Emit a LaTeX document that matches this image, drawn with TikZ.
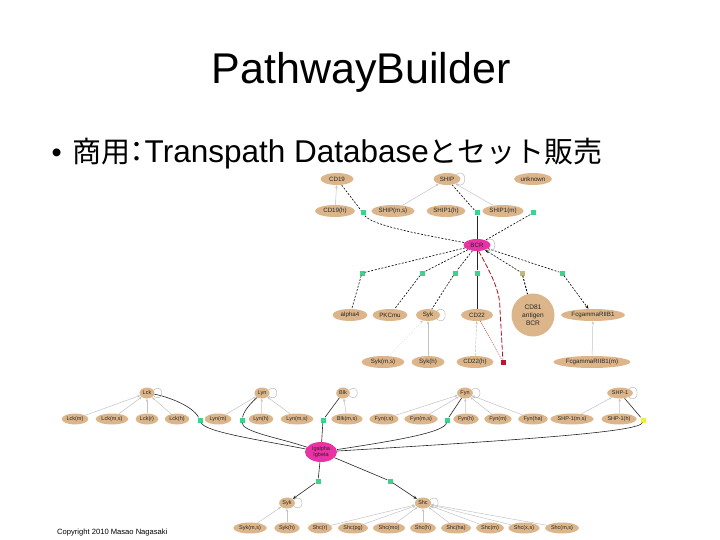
\documentclass[tikz,border=0pt]{standalone}
\usepackage{fontspec}
\setmainfont{Liberation Sans}
\newfontfamily\cjk{Noto Sans CJK JP}
\newfontfamily\cjkhalf[RawFeature=+halt]{Noto Sans CJK JP}
\usetikzlibrary{shapes.geometric,arrows.meta}
\definecolor{nodetan}{RGB}{220,182,138}
\definecolor{hubpink}{RGB}{232,50,165}
\definecolor{sqgreen}{RGB}{60,212,140}
\definecolor{sqolive}{RGB}{192,186,122}
\definecolor{sqred}{RGB}{185,25,45}
\definecolor{sqyellow}{RGB}{238,238,70}
\definecolor{edgegray}{RGB}{195,195,195}
\definecolor{redline}{RGB}{170,20,30}
\newcommand\nf{\fontsize{5.5}{6}\selectfont}
\newcommand\tf{\fontsize{6.2}{6.6}\selectfont}
\newcommand\myloop[1]{\draw[lp] (#1.25) .. controls +(11,-8) and +(11,8) .. (#1.-25);}
\tikzset{
  gn/.style={ellipse, fill=nodetan, inner xsep=1pt, inner ysep=0.3pt, minimum height=11pt, font=\nf, text=black!85, align=center},
  tn/.style={gn, font=\tf, minimum height=12pt, minimum width=#1},
  hub/.style={gn, fill=hubpink},
  sq/.style={rectangle, fill=sqgreen, minimum size=5pt, inner sep=0pt},
  cg/.style={draw=edgegray, line width=0.5pt, -{Stealth[length=3pt,width=2.5pt]}},
  dl/.style={draw=black, line width=0.6pt, dash pattern=on 2pt off 1.5pt},
  sl/.style={draw=black!85, line width=0.6pt},
  lp/.style={draw=black!25, line width=0.5pt},
  arrowend/.style={-{Stealth[length=4pt,width=3pt]}},
}
\begin{document}
\begin{tikzpicture}[x=1pt,y=-1pt]
\useasboundingbox (0,0) rectangle (720,540);
% titles
\node[anchor=base, font=\fontsize{43}{48}\selectfont] (title) at (361,84) {PathwayBuilder};
\node[anchor=base west, font=\fontsize{29}{32}\selectfont] (bul) at (48,163) {\textbullet};
\node[anchor=base west, inner sep=0pt, font=\fontsize{31.5}{34}\selectfont] (sub) at (72,163) {{\fontsize{29}{32}\selectfont\cjk 商用}{\fontsize{29}{32}\selectfont\cjkhalf ：}Transpath Database{\fontsize{29}{32}\selectfont\cjk とセット販売}};
\node[anchor=base west, inner sep=0pt, font=\fontsize{7.6}{8}\selectfont] (copy) at (57,534) {Copyright 2010 Masao Nagasaki};

% ---------------- top graph ----------------
\node[tn=33pt] (CD19) at (337,179) {CD19};
\node[tn=27pt] (SHIP) at (447,179) {SHIP};
\node[tn=37pt] (unk) at (533,179) {unknown};
\node[tn=40pt] (CD19h) at (335,211) {CD19(h)};
\node[tn=41pt] (SHIPms) at (393,211) {SHIP(m,s)};
\node[tn=37pt] (SHIP1h) at (446,211) {SHIP1(h)};
\node[tn=37pt] (SHIP1m) at (503,211) {SHIP1(m)};
\node[sq] (s1) at (363,213) {};
\node[sq] (s2) at (477,213) {};
\node[sq] (s3) at (533,213) {};
\node[hub, font=\tf, minimum width=27pt, minimum height=12pt] (BCR) at (477,245) {BCR};
\node[sq] (t1) at (362,273) {};
\node[sq] (t2) at (422,273) {};
\node[sq] (t3) at (455,273) {};
\node[sq] (t4) at (477,273) {};
\node[sq, fill=sqolive] (t5) at (522,273) {};
\node[sq] (t6) at (562,273) {};
\node[tn=35pt] (alpha4) at (350,315) {alpha4};
\node[tn=35pt] (PKCmu) at (390,315) {PKCmu};
\node[tn=24pt] (SykT) at (428,315) {Syk};
\node[tn=32pt] (CD22) at (477,315) {CD22};
\node[circle, fill=nodetan, minimum size=43pt, inner sep=0pt, font=\fontsize{6.6}{7}\selectfont, text=black!85, align=center] (CD81) at (533,315) {CD81\\[1pt]antigen\\[1pt]BCR};
\node[tn=56pt] (Fcg) at (593,315) {FcgammaRIIB1};
\node[sq, fill=sqred] (rsq) at (503,362) {};
\node[tn=43pt] (Sykms) at (383,362) {Syk(m,s)};
\node[tn=33pt] (Sykh) at (428,362) {Syk(h)};
\node[tn=37pt] (CD22h) at (475,362) {CD22(h)};
\node[tn=72pt] (Fcgm) at (592,362) {FcgammaRIIB1(m)};

% top edges
\draw[cg] (CD19h) -- (CD19);
\draw[cg] (SHIPms) -- (SHIP);
\draw[cg] (SHIP1m) -- (SHIP);
\draw[dl] (CD19) -- (s1);
\draw[dl] (s1) .. controls (372,226) and (430,236) .. (BCR);
\draw[dl] (SHIP) -- (s2);
\draw[sl] (s2) -- (BCR);
\draw[dl] (s3) -- (BCR);
\draw[dl] (BCR) -- (t1);
\draw[dl] (BCR) -- (t2);
\draw[dl] (BCR) -- (t3);
\draw[sl] (BCR) -- (t4);
\draw[dl, arrowend] (t5) -- (BCR);
\draw[dl] (BCR) -- (t6);
\draw[dl] (t1) -- (alpha4);
\draw[dl] (t2) -- (PKCmu);
\draw[dl] (t3) -- (SykT);
\draw[sl, line width=1pt] (t4) -- (CD22);
\draw[dl, line width=0.9pt] (t5) -- (CD81);
\draw[dl, arrowend] (t6) -- (Fcg);
\draw[redline, line width=0.8pt, dash pattern=on 5pt off 2pt] (BCR.-75) .. controls (496,282) and (500,295) .. (500,310) -- (rsq);
\draw[redline, line width=0.4pt, dash pattern=on 1pt off 1pt] (CD22) -- (rsq);
\draw[cg, dotted] (Sykms) -- (SykT);
\draw[cg] (Sykh) -- (SykT);
\draw[cg, dash pattern=on 3pt off 1pt] (CD22h) -- (CD22);
\draw[cg] (Fcgm) -- (Fcg);
\myloop{SHIP}
\myloop{BCR}
\myloop{SykT}

% ---------------- bottom graph ----------------
\node[gn] (Lck) at (147,393) {Lck};
\node[gn] (Lyn) at (262,393) {Lyn};
\node[gn] (Blk) at (343,393) {Blk};
\node[gn] (Fyn) at (465,393) {Fyn};
\node[gn] (SHP1) at (620,393) {SHP-1};
\node[gn] (Lckm) at (75,419) {Lck(m)};
\node[gn] (Lckms) at (112,419) {Lck(m,s)};
\node[gn] (Lckr) at (147,419) {Lck(r)};
\node[gn] (Lckh) at (177,419) {Lck(h)};
\node[sq] (g1) at (200,420) {};
\node[gn] (Lynm) at (218,419) {Lyn(m)};
\node[sq] (g2) at (242,420) {};
\node[gn] (Lynh) at (261,419) {Lyn(h)};
\node[gn] (Lynms) at (297,419) {Lyn(m,s)};
\node[sq] (g3) at (323,420) {};
\node[gn] (Blkms) at (347,419) {Blk(m,s)};
\node[gn] (Fynrs) at (384,419) {Fyn(r,s)};
\node[gn] (Fynms) at (421,419) {Fyn(m,s)};
\node[sq] (g4) at (447,420) {};
\node[gn] (Fynh) at (466,419) {Fyn(h)};
\node[gn] (Fynm) at (498,419) {Fyn(m)};
\node[gn] (Fynha) at (533,419) {Fyn(ha)};
\node[gn] (SHP1ms) at (572,419) {SHP-1(m,s)};
\node[gn] (SHP1h) at (619,419) {SHP-1(h)};
\node[sq, fill=sqyellow] (y1) at (643,420) {};
\node[hub, minimum width=32pt, minimum height=20pt] (Ig) at (321,452) {Igalpha\\Igbeta};
\node[sq] (gS) at (318,481) {};
\node[sq] (gShc) at (390,481) {};
\node[gn] (SykB) at (287,503) {Syk};
\node[gn] (Shc) at (423,503) {Shc};
\node[gn] (SykBms) at (250,528) {Syk(m,s)};
\node[gn] (SykBh) at (287,528) {Syk(h)};
\node[gn] (Shcr) at (320,528) {Shc(r)};
\node[gn] (Shcpg) at (353,528) {Shc(pg)};
\node[gn] (Shcmo) at (389,528) {Shc(mo)};
\node[gn] (Shch) at (423,528) {Shc(h)};
\node[gn] (Shcha) at (456,528) {Shc(ha)};
\node[gn] (Shcm) at (490,528) {Shc(m)};
\node[gn] (Shcxs) at (524,528) {Shc(x,s)};
\node[gn] (Shcms) at (562,528) {Shc(m,s)};

% bottom edges
\foreach \c in {Lckm,Lckms,Lckr,Lckh} \draw[cg] (\c) -- (Lck);
\foreach \c in {Lynm,Lynh,Lynms} \draw[cg] (\c) -- (Lyn);
\draw[cg] (Blkms) -- (Blk);
\foreach \c in {Fynrs,Fynms,Fynh,Fynm,Fynha} \draw[cg] (\c) -- (Fyn);
\foreach \c in {SHP1ms,SHP1h} \draw[cg] (\c) -- (SHP1);
\draw[sl] (Lck) .. controls (165,396) and (192,405) .. (g1);
\draw[sl] (g1) .. controls (205,432) and (260,440) .. (Ig);
\draw[sl] (Lyn) .. controls (252,402) and (244,410) .. (g2);
\draw[sl] (g2) .. controls (242,432) and (280,438) .. (Ig);
\draw[sl] (Blk) -- (g3);
\draw[sl] (g3) -- (Ig);
\draw[sl] (Fyn) -- (g4);
\draw[sl] (g4) .. controls (445,432) and (400,440) .. (Ig);
\draw[sl] (SHP1) -- (y1);
\draw[sl] (y1) .. controls (640,432) and (520,440) .. (Ig);
\draw[sl] (Ig) -- (gS);
\draw[sl, arrowend] (gS) -- (SykB);
\draw[sl] (Ig) -- (gShc);
\draw[sl, arrowend] (gShc) -- (Shc);
\foreach \c in {SykBms,SykBh} \draw[cg] (\c) -- (SykB);
\foreach \c in {Shcr,Shcpg,Shcmo,Shch,Shcha,Shcm,Shcxs,Shcms} \draw[cg] (\c) -- (Shc);
\myloop{Lck}
\myloop{Lyn}
\myloop{Blk}
\myloop{Fyn}
\myloop{SHP1}
\myloop{SykB}
\myloop{Shc}
\end{tikzpicture}
\end{document}
